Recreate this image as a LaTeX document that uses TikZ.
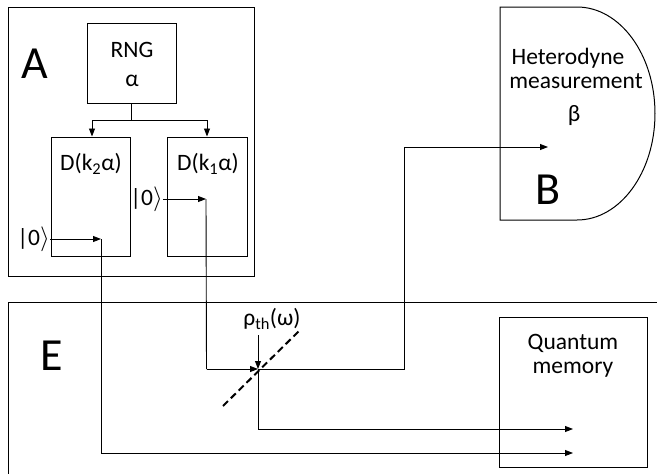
\documentclass[tikz,border=0pt]{standalone}
\usepackage{fontspec}
\setmainfont{Carlito}
\usetikzlibrary{arrows.meta}
\begin{document}
\begin{tikzpicture}[x=1pt,y=-1pt,
  box/.style={draw,line width=1pt,inner sep=0pt},
  wire/.style={line width=0.9pt},
  arr/.style={wire,-{Triangle[length=8pt,width=6pt]}},
  txt/.style={inner sep=0pt,font=\fontsize{23.5}{28}\selectfont},
  big/.style={inner sep=0pt,font=\fontsize{46}{52}\selectfont}]
\useasboundingbox (0,0) rectangle (657,474);
% Alice box
\node[box,minimum width=246pt,minimum height=269pt] (A) at (131,141.5) {};
\node[big] (Alab) at (35,64) {A};
\node[box,minimum width=89pt,minimum height=80pt] (rng) at (131.5,63) {};
\node[txt] (rngt) at (132,50) {RNG};
\node[txt] (alpha) at (132,81) {α};
\node[box,minimum width=79pt,minimum height=119pt] (d2) at (90.5,196.5) {};
\node[box,minimum width=80pt,minimum height=119pt] (d1) at (207,196.5) {};
\node[txt] (d2t) at (91,164) {D(k\textsubscript{2}α)};
\node[txt] (d1t) at (208,164) {D(k\textsubscript{1}α)};
\node[txt,anchor=east] (k2) at (50,239) {|0$\rangle$};
\node[txt,anchor=east] (k1) at (163,199) {|0$\rangle$};
% RNG fan-out
\coordinate (split) at (131.5,120);
\draw[wire] (rng.south) -- (split);
\draw[arr] (split) -| (d2.north -| 92,0);
\draw[arr] (split) -| (d1.north -| 207,0);
% Bob
\draw[line width=1pt] (500,7) -- (577,7)
  arc[start angle=90,end angle=-90,x radius=78pt,y radius=106.5pt]
  -- (500,220) -- cycle;
\node[txt] (het) at (568,58) {Heterodyne};
\node[txt] (meas) at (576,81) {measurement};
\node[txt] (beta) at (574,116) {β};
\node[big] (Blab) at (548,190) {B};
% Eve
\draw[line width=1pt] (657,302.5) -- (8,302.5) -- (8,474);
\node[big] (Elab) at (52,356) {E};
\node[box,minimum width=148pt,minimum height=150pt] (qm) at (573,392) {};
\node[txt] (qmt1) at (573,343) {Quantum};
\node[txt] (qmt2) at (573,370) {memory};
% beam splitter
\coordinate (bs) at (258,369);
\draw[line width=2pt,dash pattern=on 7pt off 4pt] (223,406) -- (299,331);
\node[txt] (rho) at (272,319) {ρ\textsubscript{th}(ω)};
\draw[arr] (258,335) -- (bs);
% wires
\coordinate (c2) at (101,239);
\coordinate (c1) at (206,199);
\draw[arr] (k2.east) -- (c2);
\draw[arr] (k1.east) -- (c1);
\coordinate (m1) at (573,429);
\coordinate (m2) at (573,453);
\coordinate (bin) at (548,147);
\draw[wire] (c2) -- (101,453);
\draw[arr] (101,453) -- (m2);
\draw[wire] (c1) -- (206.5,369);
\draw[arr] (206.5,369) -- (bs);
\draw[wire] (bs) -- (404,369) -- (404,147);
\draw[arr] (404,147) -- (bin);
\draw[wire] (bs) -- (258,429);
\draw[arr] (258,429) -- (m1);
\end{tikzpicture}
\end{document}
